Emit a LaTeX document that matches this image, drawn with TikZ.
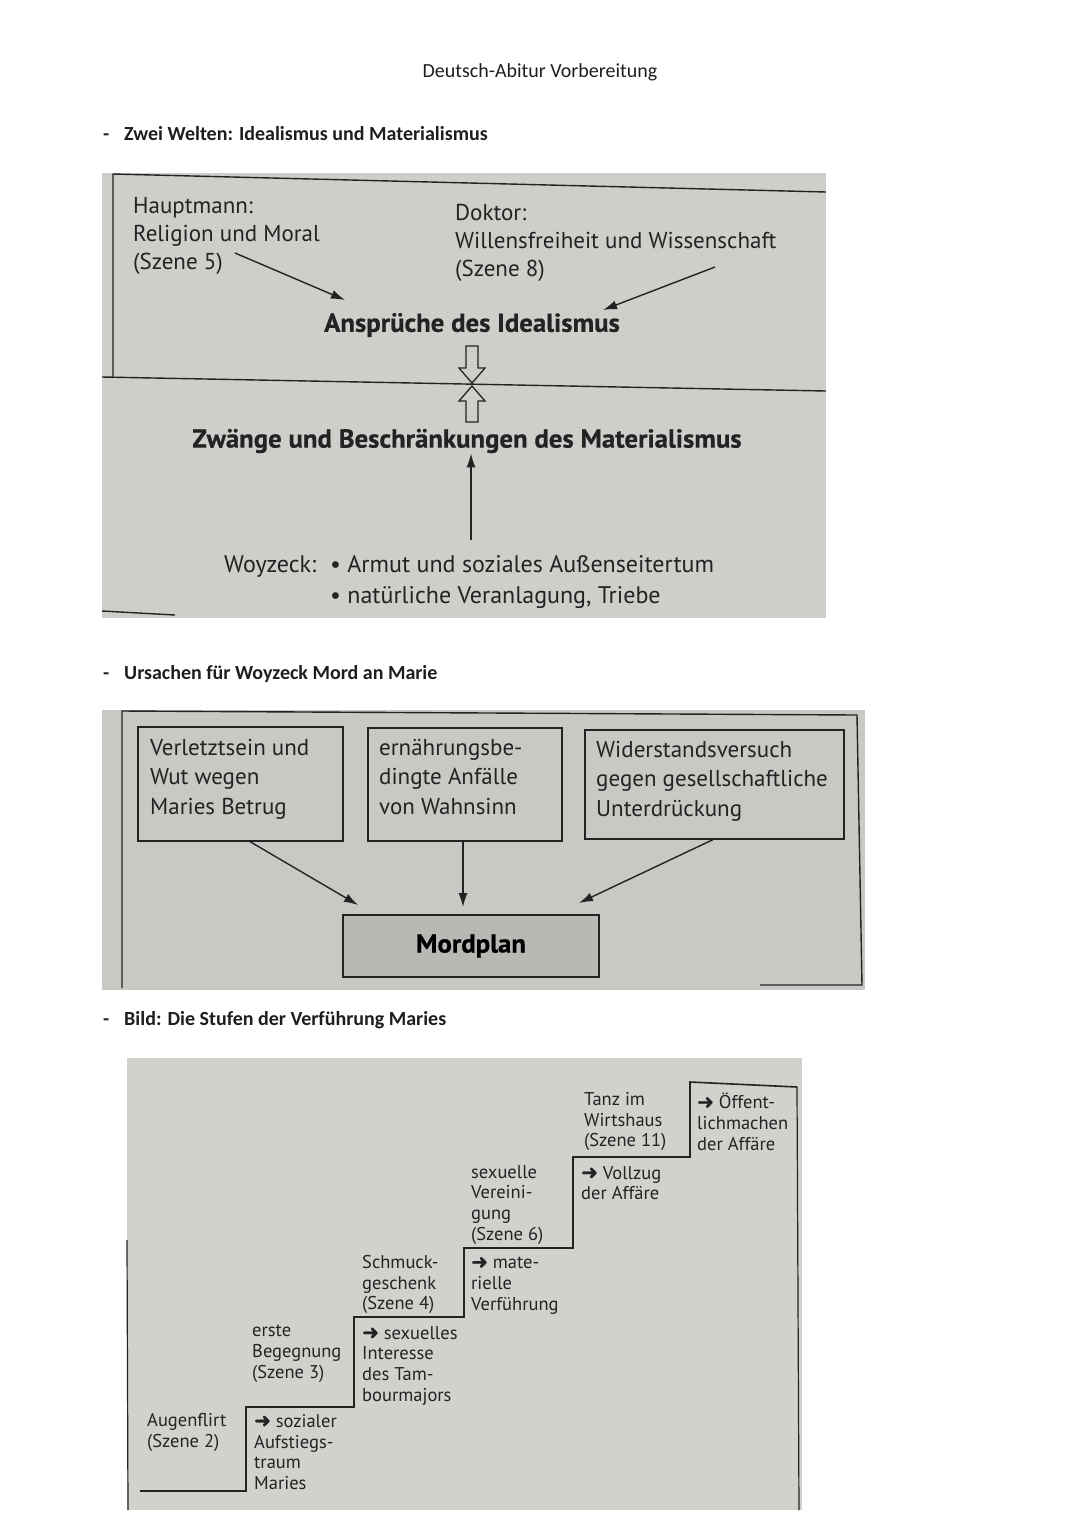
\documentclass[tikz,border=0pt]{standalone}
\usepackage{fontspec}
\setmainfont{PT Sans}
\newfontfamily\hdr{Carlito}
\newfontfamily\bk{PT Sans}
\newfontfamily\bkbold[FakeStretch=1.03,FakeBold=0.6]{PT Sans Bold}
\newfontfamily\arrf[FakeBold=1]{DejaVu Sans}
\usetikzlibrary{arrows.meta,calc}
\definecolor{pgone}{RGB}{207,206,202}
\definecolor{pgtwo}{RGB}{201,200,196}
\definecolor{pgthree}{RGB}{210,209,205}
\definecolor{mordfill}{RGB}{184,184,181}
\definecolor{ink}{RGB}{35,35,35}
\definecolor{hdrink}{RGB}{30,30,30}
\newcommand{\ar}{{\arrf\fontsize{20}{17}\selectfont ➜}}
\tikzset{
  hdrtext/.style={font=\hdr\fontsize{20}{24}\selectfont, text=hdrink, inner sep=0pt},
  headline/.style={font=\hdr\bfseries\fontsize{20}{24}\selectfont, text=hdrink, inner sep=0pt, anchor=base west},
  bigtext/.style={font=\bk\fontsize{23}{28}\selectfont, text=ink, inner sep=0pt, align=left, anchor=north west},
  boldtext/.style={font=\bkbold\fontsize{26}{28}\selectfont, text=ink, inner sep=0pt},
  boxtext/.style={font=\bk\fontsize{23}{29.5}\selectfont, text=ink, inner sep=0pt, align=left, anchor=north west},
  stairtext/.style={font=\bk\fontsize{18.5}{20.7}\selectfont, text=ink, inner sep=0pt, align=left, anchor=north west},
  causebox/.style={draw=ink, line width=1.6pt, inner sep=0pt, anchor=north west},
  arr/.style={-{Latex[length=14pt,width=9pt]}, line width=1.4pt, draw=ink},
  frameline/.style={draw=ink, line width=1.4pt},
  hollow/.style={draw=ink, line width=1.3pt, fill=pgone, line join=miter},
}
\begin{document}
\begin{tikzpicture}[x=1pt,y=-1pt]
\useasboundingbox (0,0) rectangle (1080,1527);
\fill[white] (0,0) rectangle (1080,1527);

% header
\node[hdrtext] (title) at (540,72) {Deutsch-Abitur Vorbereitung};

% ---------------- section 1
\node[headline] (dash1) at (103,140) {-};
\node[headline] (head1) at (124,140) {Zwei Welten: Idealismus und Materialismus};

\fill[pgone] (102,173) rectangle (826,618);
\draw[frameline] (113,378) -- (113,174) -- (826,192);
\draw[frameline] (102,377) -- (826,391);
\draw[frameline] (102,611) -- (175,615);

\node[bigtext] (haupt) at (133,197) {Hauptmann:\\Religion und Moral\\(Szene 5)};
\node[bigtext] (doktor) at (455,204) {Doktor:\\Willensfreiheit und Wissenschaft\\(Szene 8)};
\node[boldtext] (ideal) at (472,325) {Ansprüche des Idealismus};
\node[boldtext] (mater) at (467,441) {Zwänge und Beschränkungen des Materialismus};

\coordinate (hs) at (235,253);
\coordinate (he) at (345,300);
\coordinate (ds) at (715,267);
\coordinate (de) at (603,310);
\draw[arr] (hs) -- (he);
\draw[arr] (ds) -- (de);

% hollow double arrow
\draw[hollow] (466,346) -- (478,346) -- (478,368) -- (485,368) -- (472,383) -- (459,368) -- (466,368) -- cycle;
\draw[hollow] (472,386) -- (485,401) -- (478,401) -- (478,422) -- (466,422) -- (466,401) -- (459,401) -- cycle;

\node[font=\bk\fontsize{24}{31}\selectfont, text=ink, inner sep=0pt, anchor=base west] (woy) at (224,572) {Woyzeck:};
\node[font=\bk\fontsize{24}{31}\selectfont, text=ink, inner sep=0pt, anchor=base west] (wone) at (330,572) {• Armut und soziales Außenseitertum};
\node[font=\bk\fontsize{24}{31}\selectfont, text=ink, inner sep=0pt, anchor=base west] (wtwo) at (330,603) {• natürliche Veranlagung, Triebe};
\coordinate (ws) at (471,540);
\draw[arr] (ws) -- (mater.south -| ws);

% ---------------- section 2
\node[headline] (dash2) at (103,679) {-};
\node[headline] (head2) at (124,679) {Ursachen für Woyzeck Mord an Marie};

\fill[pgtwo] (102,710) rectangle (865,990);
\draw[frameline] (122,988) -- (122,711) -- (857,715) -- (862,985) -- (760,985);

\node[causebox, minimum width=205pt, minimum height=114pt] (b1) at (137,726) {};
\node[causebox, minimum width=194pt, minimum height=113pt] (b2) at (367,727) {};
\node[causebox, minimum width=259pt, minimum height=109pt] (b3) at (584,729) {};
\node[boxtext] (t1) at (150,739) {Verletztsein und\\Wut wegen\\Maries Betrug};
\node[boxtext] (t2) at (379,739) {ernährungsbe-\\dingte Anfälle\\von Wahnsinn};
\node[boxtext] (t3) at (596,741) {Widerstandsversuch\\gegen gesellschaftliche\\Unterdrückung};

\node[causebox, fill=mordfill, minimum width=256pt, minimum height=62pt, anchor=center,
      font=\bkbold\fontsize{26}{28}\selectfont] (mord) at (471,946) {Mordplan};

\coordinate (m1) at (358,905);
\coordinate (m2) at (463,907);
\coordinate (m3) at (579,903);
\draw[arr] (b1.south -| 250,0) -- (m1);
\draw[arr] (b2.south -| m2) -- (m2);
\draw[arr] (b3.south -| 713,0) -- (m3);

% ---------------- section 3
\node[headline] (dash3) at (103,1025) {-};
\node[headline] (head3) at (124,1025) {Bild: Die Stufen der Verführung Maries};

\fill[pgthree] (127,1058) rectangle (802,1510);
\draw[frameline, line width=1.2pt] (127,1240) -- (128,1510);
\draw[frameline, line width=1.2pt] (797,1087) -- (799,1510);
\draw[frameline, line width=1.6pt] (140,1491) -- (246,1491) -- (246,1407) -- (354,1407) -- (354,1317)
  -- (464,1317) -- (464,1248) -- (573,1248) -- (573,1157) -- (690,1157) -- (690,1082) -- (797,1087);

\node[stairtext] (s1a) at (147,1413) {Augenflirt\\(Szene 2)};
\node[stairtext] (s1b) at (254,1414) {\ar\ sozialer\\Aufstiegs-\\traum\\Maries};
\node[stairtext] (s2a) at (252,1325) {erste\\Begegnung\\(Szene 3)};
\node[stairtext] (s2b) at (362,1326) {\ar\ sexuelles\\Interesse\\des Tam-\\bourmajors};
\node[stairtext] (s3a) at (362,1255) {Schmuck-\\geschenk\\(Szene 4)};
\node[stairtext] (s3b) at (471,1257) {\ar\ mate-\\rielle\\Verführung};
\node[stairtext] (s4a) at (471,1165) {sexuelle\\Vereini-\\gung\\(Szene 6)};
\node[stairtext] (s4b) at (581,1166) {\ar\ Vollzug\\der Affäre};
\node[stairtext] (s5a) at (584,1092) {Tanz im\\Wirtshaus\\(Szene 11)};
\node[stairtext] (s5b) at (697,1093) {\ar\ Öffent-\\lichmachen\\der Affäre};
\end{tikzpicture}
\end{document}
